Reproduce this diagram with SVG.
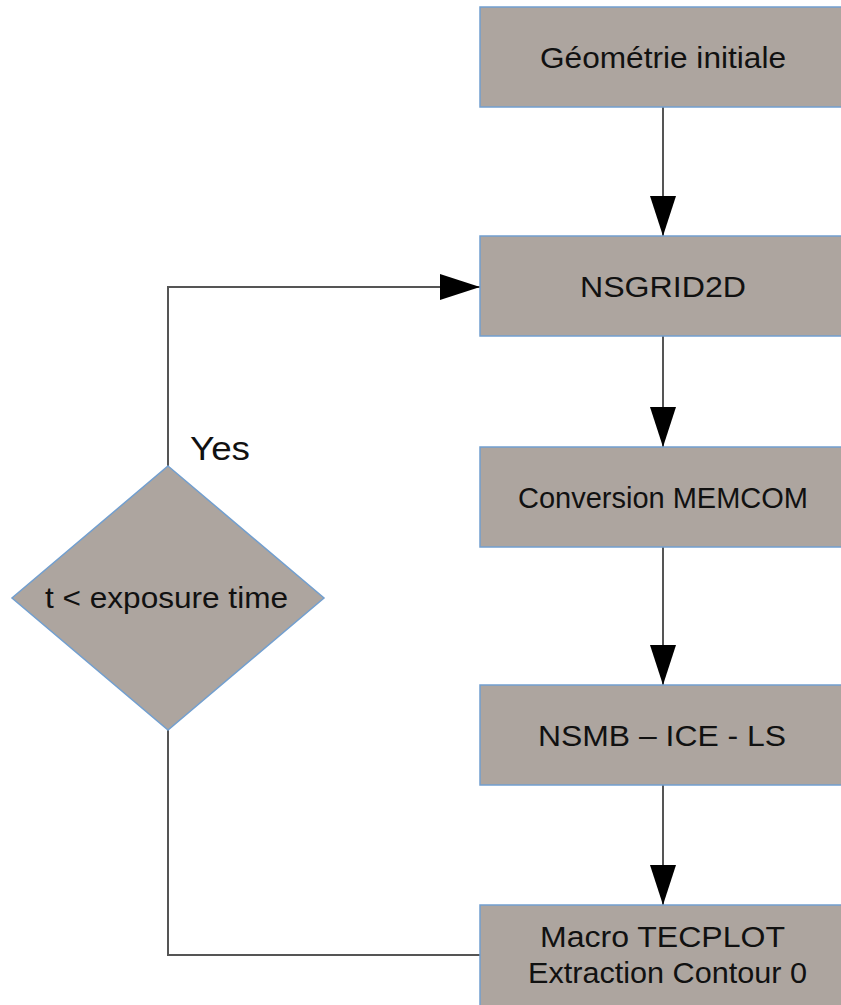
<svg xmlns="http://www.w3.org/2000/svg" width="841" height="1005" viewBox="0 0 841 1005">
<defs>
<marker id="arr" viewBox="0 0 40 26" refX="40" refY="13" markerWidth="40" markerHeight="26" markerUnits="userSpaceOnUse" orient="auto">
<path d="M0,0 L40,13 L0,26 Z" fill="#000"/>
</marker>
</defs>
<style>
.box{fill:#ada59f;stroke:#729fcf;stroke-width:1.5}
.t{font-family:"Liberation Sans",Arial,sans-serif;font-size:29px;fill:#111;text-anchor:middle}
.c{fill:none;stroke:#555;stroke-width:2}
</style>
<rect width="841" height="1005" fill="#fff"/>
<g id="connectors">
<path class="c" d="M663,107 V236" marker-end="url(#arr)"/>
<path class="c" d="M663,336 V447" marker-end="url(#arr)"/>
<path class="c" d="M663,547 V685" marker-end="url(#arr)"/>
<path class="c" d="M663,785 V905" marker-end="url(#arr)"/>
<path class="c" d="M168,466 V287 H480" marker-end="url(#arr)"/>
<path class="c" d="M168,730 V955 H480"/>
<text x="190" y="460" font-family="Liberation Sans,Arial,sans-serif" font-size="34" fill="#111" textLength="60" lengthAdjust="spacingAndGlyphs">Yes</text>
</g>
<g id="n1">
<rect class="box" x="480" y="7" width="370" height="100"/>
<text class="t" x="663" y="68" textLength="246" lengthAdjust="spacingAndGlyphs">Géométrie initiale</text>
</g>
<g id="n2">
<rect class="box" x="480" y="236" width="370" height="100"/>
<text class="t" x="663" y="297" textLength="166" lengthAdjust="spacingAndGlyphs">NSGRID2D</text>
</g>
<g id="n3">
<rect class="box" x="480" y="447" width="370" height="100"/>
<text class="t" x="663" y="508" textLength="290" lengthAdjust="spacingAndGlyphs">Conversion MEMCOM</text>
</g>
<g id="n4">
<rect class="box" x="480" y="685" width="370" height="100"/>
<text class="t" x="662" y="746" textLength="248" lengthAdjust="spacingAndGlyphs">NSMB – ICE - LS</text>
</g>
<g id="n5">
<rect class="box" x="480" y="905" width="370" height="110"/>
<text class="t" x="662.5" y="947" textLength="245" lengthAdjust="spacingAndGlyphs">Macro TECPLOT</text>
<text class="t" x="667.5" y="983" textLength="279" lengthAdjust="spacingAndGlyphs">Extraction Contour 0</text>
</g>
<g id="d1">
<polygon class="box" points="168,466 324,598 168,730 12,598"/>
<text class="t" x="166.5" y="608" textLength="243" lengthAdjust="spacingAndGlyphs">t &lt; exposure time</text>
</g>
</svg>
